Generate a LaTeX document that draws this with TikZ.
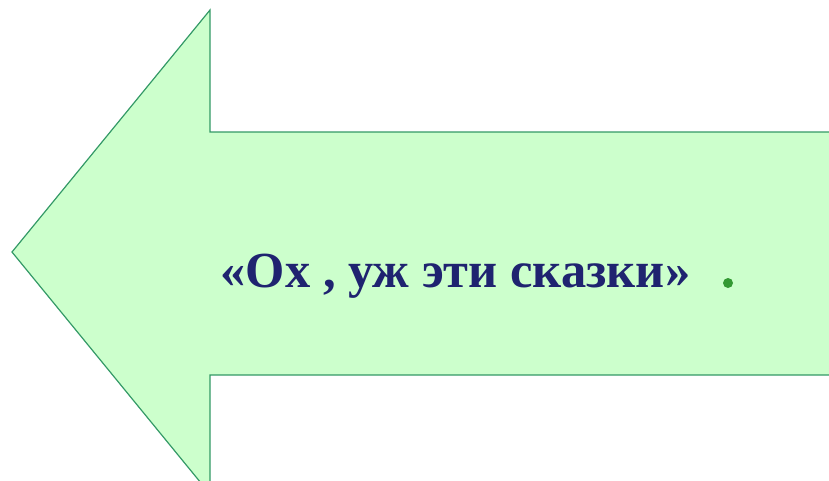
\documentclass[tikz,border=0pt]{standalone}
\usepackage{fontspec}
\setmainfont{Liberation Serif}
\definecolor{arrowfill}{RGB}{204,255,204}
\definecolor{arrowline}{RGB}{51,153,102}
\definecolor{navytext}{RGB}{31,35,112}
\definecolor{dotgreen}{RGB}{51,153,51}
\tikzset{
  arrowshape/.style={fill=arrowfill, draw=arrowline, line width=1.2pt, line join=miter},
  titletext/.style={text=navytext, font=\bfseries\fontsize{50.5}{56}\selectfont, inner sep=0pt, anchor=base west},
  dotmark/.style={fill=dotgreen, draw=none}
}
\begin{document}
\begin{tikzpicture}[x=1pt,y=-1pt]
\useasboundingbox (0,0) rectangle (829,480);
\clip (0,0) rectangle (829,480);
\draw[arrowshape] (845,132) -- (210,132) -- (210,10) -- (12,252) -- (210,494) -- (210,375) -- (845,375) -- cycle;
\node[titletext] (title) at (220.5,287) {«Ох , уж эти сказки»};
\fill[dotmark] (728,283) circle (5);
\end{tikzpicture}
\end{document}
